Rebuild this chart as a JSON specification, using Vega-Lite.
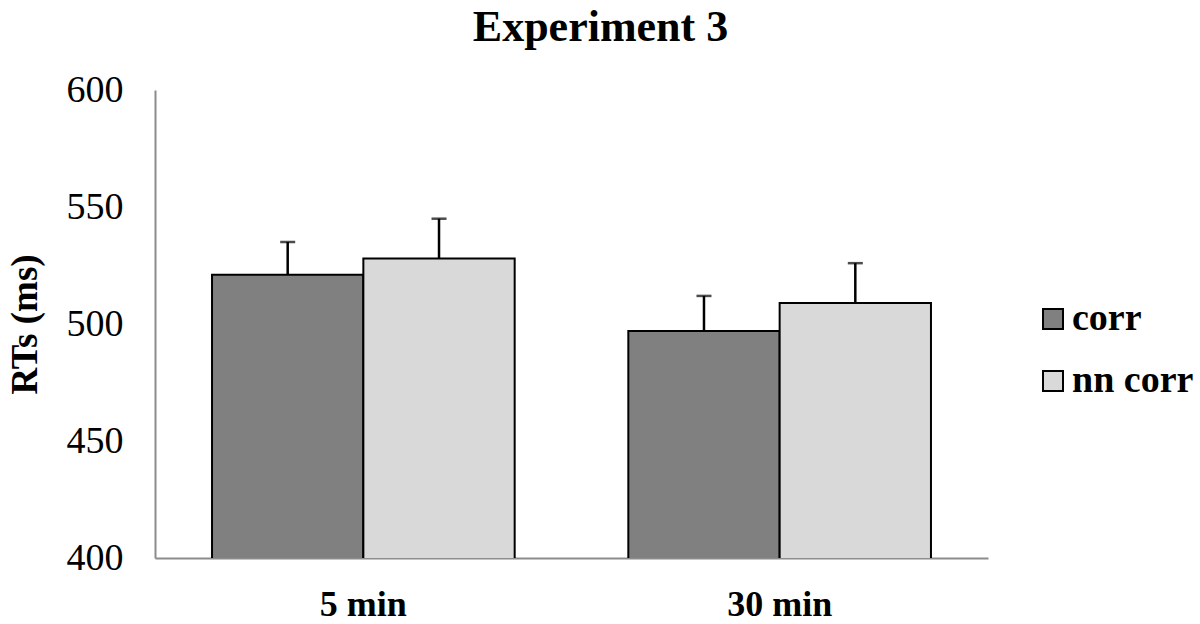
{
  "$schema": "https://vega.github.io/schema/vega-lite/v6.json",
  "width": 833,
  "height": 468,
  "autosize": {"type": "none"},
  "padding": {"left": 155, "top": 90, "right": 212, "bottom": 66},
  "background": "white",
  "config": {"view": {"stroke": null}},
  "title": {
    "text": "Experiment 3",
    "anchor": "middle",
    "font": "Liberation Serif",
    "fontSize": 44,
    "fontWeight": "bold",
    "color": "black",
    "dx": 29,
    "offset": 21
  },
  "data": {
    "values": [
      {"time": "5 min", "cond": "corr", "rt": 521, "upper": 535},
      {"time": "5 min", "cond": "nn corr", "rt": 528, "upper": 545},
      {"time": "30 min", "cond": "corr", "rt": 497, "upper": 512},
      {"time": "30 min", "cond": "nn corr", "rt": 509, "upper": 526}
    ]
  },
  "encoding": {
    "x": {
      "field": "time",
      "type": "nominal",
      "sort": ["5 min", "30 min"],
      "scale": {"paddingInner": 0.273, "paddingOuter": 0.137},
      "axis": {
        "title": null,
        "ticks": false,
        "domainColor": "#8c8c8c",
        "domainWidth": 2,
        "labelFont": "Liberation Serif",
        "labelFontSize": 36,
        "labelFontWeight": "bold",
        "labelColor": "black",
        "labelPadding": 29,
        "labelAngle": 0
      }
    },
    "xOffset": {
      "field": "cond",
      "type": "nominal",
      "sort": ["corr", "nn corr"],
      "scale": {"paddingInner": 0, "paddingOuter": 0}
    }
  },
  "layer": [
    {
      "mark": {"type": "bar", "stroke": "black", "strokeWidth": 2, "clip": true},
      "encoding": {
        "y": {
          "field": "rt",
          "type": "quantitative",
          "scale": {"domain": [400, 600], "nice": false, "zero": false},
          "axis": {
            "title": "RTs (ms)",
            "values": [400, 450, 500, 550, 600],
            "grid": false,
            "ticks": false,
            "domainColor": "#8c8c8c",
            "domainWidth": 2,
            "labelFont": "Liberation Serif",
            "labelFontSize": 38,
            "labelColor": "black",
            "labelPadding": 32,
            "titleFont": "Liberation Serif",
            "titleFontSize": 37,
            "titleFontWeight": "bold",
            "titleColor": "black",
            "titlePadding": 22
          }
        },
        "color": {
          "field": "cond",
          "type": "nominal",
          "scale": {"domain": ["corr", "nn corr"], "range": ["#808080", "#d9d9d9"]},
          "legend": {
            "title": null,
            "orient": "none",
            "legendX": 879,
            "legendY": 210,
            "symbolType": "square",
            "symbolSize": 400,
            "symbolStrokeColor": "black",
            "symbolStrokeWidth": 2,
            "labelFont": "Liberation Serif",
            "labelFontSize": 38,
            "labelFontWeight": "bold",
            "labelColor": "black",
            "labelOffset": 0,
            "rowPadding": 24
          }
        }
      }
    },
    {
      "mark": {"type": "rule", "color": "black", "strokeWidth": 2.5},
      "encoding": {
        "y": {"field": "rt", "type": "quantitative"},
        "y2": {"field": "upper"}
      }
    },
    {
      "mark": {"type": "tick", "color": "black", "thickness": 2.5, "size": 15},
      "encoding": {
        "y": {"field": "upper", "type": "quantitative"}
      }
    }
  ]
}
